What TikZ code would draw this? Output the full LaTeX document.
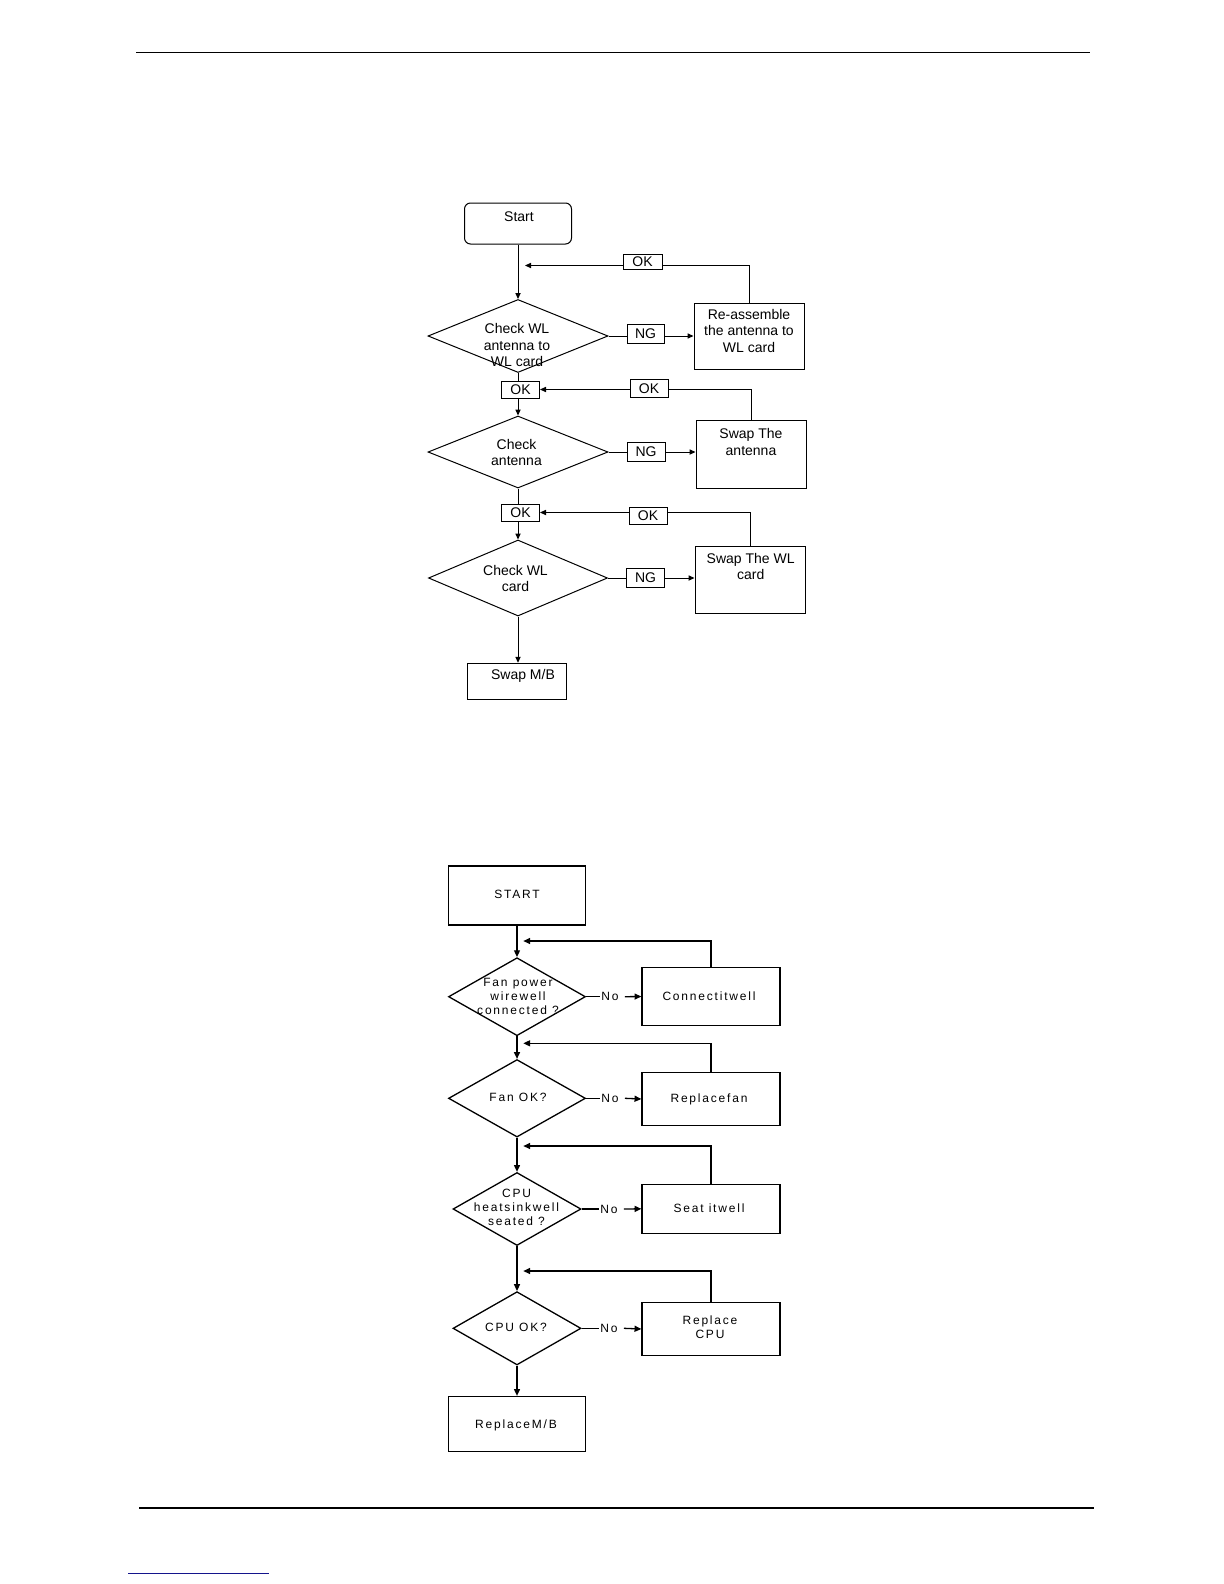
\documentclass[tikz,border=0pt]{standalone}
\usepackage{fontspec}
\setmainfont{Liberation Sans}
\newfontfamily\spacedfont[LetterSpace=15]{Liberation Sans}
\usetikzlibrary{shapes.geometric,arrows.meta}
\begin{document}
\begin{tikzpicture}[x=0.5pt,y=-0.5pt,
  tline/.style={line width=0.5pt},
  bline/.style={line width=0.65pt},
  tarr/.style={tline,-{Triangle[length=3pt,width=2.6pt]}},
  barr/.style={bline,-{Triangle[length=3.4pt,width=3pt]}},
  tbox/.style={draw,tline,inner sep=0pt},
  bbox/.style={draw,bline,inner sep=0pt},
  tdia/.style={draw,tline,diamond,inner sep=0pt},
  bdia/.style={draw,bline,diamond,inner sep=0pt},
  tlbl/.style={draw,tline,fill=white,inner sep=0pt,font=\fontsize{7}{8}\selectfont},
  ttxt/.style={align=center,inner sep=0pt,font=\fontsize{7}{8.25}\selectfont},
  btxt/.style={align=center,inner sep=0pt,font=\spacedfont\fontsize{6}{7}\selectfont},
]
\useasboundingbox (0,0) rectangle (1224,1584);
\fill[white] (0,0) rectangle (1224,1584);

% page rules
\coordinate (hl) at (136,52.5);
\coordinate (hr) at (1090,52.5);
\draw[line width=0.8pt] (hl) -- (hr);
\coordinate (fl) at (139,1508);
\coordinate (fr) at (1094,1508);
\draw[line width=0.8pt] (fl) -- (fr);
\coordinate (ul) at (128,1573.5);
\coordinate (ur) at (269,1573.5);
\draw[line width=0.7pt,color={rgb,255:red,20;green,20;blue,140}] (ul) -- (ur);

% ===== top flowchart =====
\node[tbox,rounded corners=3pt,minimum width=53.5pt,minimum height=20.5pt] (start) at (518,223.5) {};
\node[ttxt] (startT) at (519,216.5) {Start};

\node[tdia,minimum width=90pt,minimum height=36.5pt] (d1) at (518,336) {};
\node[ttxt] (d1T) at (517,345) {Check WL\\antenna to\\WL card};

\node[tbox,minimum width=55pt,minimum height=33pt] (re) at (749,336) {};
\node[ttxt] (reT) at (749,330.5) {Re-assemble\\the antenna to\\WL card};

\node[tlbl,minimum width=19pt,minimum height=8.5pt] (ok2) at (520.5,389.5) {OK};

\node[tdia,minimum width=90pt,minimum height=36pt] (d2) at (518,452) {};
\node[ttxt] (d2T) at (516.5,452.5) {Check\\antenna};

\node[tbox,minimum width=55pt,minimum height=34pt] (ant) at (751,454) {};
\node[ttxt] (antT) at (751,442) {Swap The\\antenna};

\node[tlbl,minimum width=19pt,minimum height=8.5pt] (ok4) at (520.5,512.5) {OK};

\node[tdia,minimum width=89.5pt,minimum height=38pt] (d3) at (518,578) {};
\node[ttxt] (d3T) at (515.5,578.5) {Check WL\\card};

\node[tbox,minimum width=55pt,minimum height=33.5pt] (wl) at (750,580.3) {};
\node[ttxt] (wlT) at (750.7,566.5) {Swap The WL\\card};

\node[tbox,minimum width=49.5pt,minimum height=18pt] (mb) at (517,681.3) {};
\node[ttxt] (mbT) at (523,676) {Swap M/B};

\coordinate (fb1) at (525,265.5);

% main line
\draw[tarr] (start.south) -- (d1.north);
\draw[tline] (d1.south) -- (d1.south |- ok2.north);
\draw[tarr] (d1.south |- ok2.south) -- (d2.north);
\draw[tline] (d2.south) -- (d2.south |- ok4.north);
\draw[tarr] (d2.south |- ok4.south) -- (d3.north);
\draw[tarr] (d3.south) -- (d3.south |- mb.north);

% NG branches
\draw[tarr] (d1.east) -- (d1.east -| re.west);
\draw[tarr] (d2.east) -- (d2.east -| ant.west);
\draw[tarr] (d3.east) -- (d3.east -| wl.west);

% feedback
\draw[tarr] (re.north) |- (fb1);
\draw[tarr] (ant.north) |- (ok2.east);
\draw[tarr] (wl.north) |- (ok4.east);

% labels on lines
\node[tlbl,minimum width=19.5pt,minimum height=7.5pt] (ok1) at (642.5,261.5) {OK};
\node[tlbl,minimum width=19pt,minimum height=9pt] (ok3) at (649,388.3) {OK};
\node[tlbl,minimum width=19pt,minimum height=8.5pt] (ok5) at (648,515.5) {OK};
\node[tlbl,minimum width=18.5pt,minimum height=9.5pt] (ng1) at (645.5,334) {NG};
\node[tlbl,minimum width=19pt,minimum height=9.5pt] (ng2) at (646,451.7) {NG};
\node[tlbl,minimum width=19pt,minimum height=9.5pt] (ng3) at (645.5,578) {NG};

% ===== bottom flowchart =====
\node[bbox,minimum width=68.5pt,minimum height=29.5pt] (S) at (517,895.5) {};
\node[btxt] (ST) at (517,894.5) {START};

\node[bdia,minimum width=68.5pt,minimum height=39pt] (bd1) at (517,996.7) {};
\node[btxt] (bd1T) at (518,996) {Fan power\\wirewell\\connected ?};
\node[bbox,minimum width=69pt,minimum height=29pt] (cb) at (711,996.5) {};
\node[btxt] (cbT) at (709,996.5) {Connectitwell};

\node[bdia,minimum width=68.5pt,minimum height=38.75pt] (bd2) at (517,1098.3) {};
\node[btxt] (bd2T) at (518,1097.7) {Fan OK?};
\node[bbox,minimum width=69pt,minimum height=26.7pt] (rf) at (711,1099) {};
\node[btxt] (rfT) at (709,1099) {Replacefan};

\node[bdia,minimum width=64pt,minimum height=36.5pt] (bd3) at (517,1209) {};
\node[btxt] (bd3T) at (516.5,1207.5) {CPU\\heatsinkwell\\seated ?};
\node[bbox,minimum width=69pt,minimum height=24.5pt] (sw) at (711,1208.8) {};
\node[btxt] (swT) at (709,1208.3) {Seat itwell};

\node[bdia,minimum width=64pt,minimum height=36.65pt] (bd4) at (517,1328.3) {};
\node[btxt] (bd4T) at (516,1327.7) {CPU OK?};
\node[bbox,minimum width=69pt,minimum height=26.5pt] (rc) at (711,1329) {};
\node[btxt] (rcT) at (710,1327) {Replace\\CPU};

\node[bbox,minimum width=68.5pt,minimum height=27.5pt] (rmb) at (517,1424) {};
\node[btxt] (rmbT) at (516,1425) {ReplaceM/B};

% No labels
\node[btxt] (noA) at (610,996.7) {No};
\node[btxt] (noB) at (610,1098.3) {No};
\node[btxt] (noC) at (609,1209) {No};
\node[btxt] (noD) at (609,1328.3) {No};

\coordinate (fbA) at (523.3,941);
\coordinate (fbB) at (523.3,1043.3);
\coordinate (fbC) at (523.3,1146);
\coordinate (fbD) at (523.3,1271);

\draw[barr] (S.south) -- (bd1.north);
\draw[barr] (bd1.south) -- (bd2.north);
\draw[barr] (bd2.south) -- (bd3.north);
\draw[barr] (bd3.south) -- (bd4.north);
\draw[barr] (bd4.south) -- (rmb.north);

\draw[bline] (bd1.east) -- ([xshift=-0.5pt]noA.west);
\draw[barr] ([xshift=3pt]noA.east) -- (cb.west);
\draw[bline] (bd2.east) -- ([xshift=-0.5pt]noB.west);
\draw[barr] ([xshift=3pt]noB.east) -- (rf.west);
\draw[bline] (bd3.east) -- ([xshift=-0.5pt]noC.west);
\draw[barr] ([xshift=3pt]noC.east) -- (sw.west);
\draw[bline] (bd4.east) -- ([xshift=-0.5pt]noD.west);
\draw[barr] ([xshift=3pt]noD.east) -- (rc.west);

\draw[barr] (cb.north) |- (fbA);
\draw[barr] (rf.north) |- (fbB);
\draw[barr] (sw.north) |- (fbC);
\draw[barr] (rc.north) |- (fbD);
\end{tikzpicture}
\end{document}
